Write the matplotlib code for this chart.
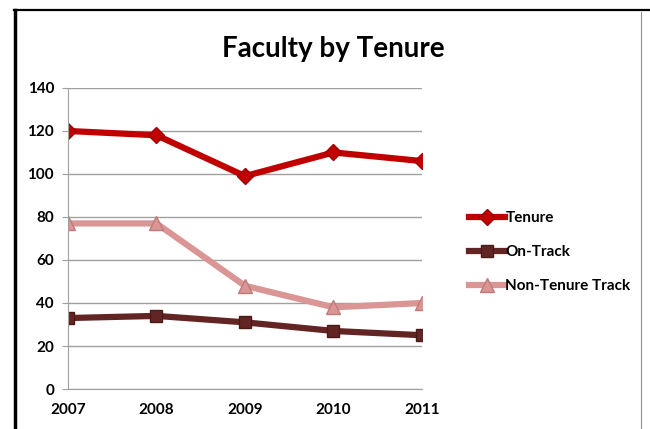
from matplotlib import pyplot as plt
from matplotlib.lines import Line2D

years = ["2007", "2008", "2009", "2010", "2011"]
tenure = [120, 118, 99, 110, 106]
on_track = [33, 34, 31, 27, 25]
non_tenure = [77, 77, 48, 38, 40]

plt.rcParams['font.family'] = ['Lato', 'DejaVu Sans']
plt.rcParams['font.weight'] = 'bold'

fig = plt.figure(figsize=(6.5, 4.29), dpi=100)
ax = fig.add_axes([0.1046, 0.0932, 0.5446, 0.7018])

x = range(len(years))
ax.plot(x, tenure, color="#C00000", lw=4.5, marker="D", ms=8,
        markeredgecolor="#A00000", label="Tenure")
ax.plot(x, on_track, color="#632523", lw=4.5, marker="s", ms=9,
        markeredgecolor="#4a1a18", label="On-Track")
ax.plot(x, non_tenure, color="#D99694", lw=4.5, marker="^", ms=10,
        markeredgecolor="#C07a78", label="Non-Tenure Track")

ax.set_xlim(0, 4)
ax.set_ylim(0, 140)
ax.set_yticks(range(0, 141, 20))
ax.set_xticks(list(x))
ax.set_xticklabels(years)
ax.grid(axis="y", color="#A0A0A0", lw=1)
ax.set_axisbelow(True)
for s in ["top", "right"]:
    ax.spines[s].set_visible(False)
ax.spines["left"].set_color("#A0A0A0")
ax.spines["bottom"].set_color("#A0A0A0")
ax.tick_params(axis="y", length=4, color="#A0A0A0", labelsize=11, pad=6)
ax.tick_params(axis="x", length=0, labelsize=11, pad=10)
for lab in ax.get_xticklabels() + ax.get_yticklabels():
    lab.set_fontweight("bold")
for sp in ax.spines.values():
    sp.set_clip_on(False)

fig.text(0.513, 0.885, "Faculty by Tenure", ha="center", va="center",
         fontsize=20, fontweight="bold")

fig.legend(loc="center left", bbox_to_anchor=(0.70, 0.412), frameon=False,
           fontsize=11, handlelength=2.4, handletextpad=0.0, labelspacing=1.3)

# outer frame of the chart box
fig.add_artist(Line2D([0.023, 0.023], [0.0, 0.977], color="black", lw=2.5,
                      transform=fig.transFigure))
fig.add_artist(Line2D([0.022, 1.0], [0.977, 0.977], color="black", lw=1.6,
                      transform=fig.transFigure))
fig.add_artist(Line2D([0.986, 0.986], [0.0, 0.972], color="#909090", lw=0.8,
                      transform=fig.transFigure))

fig.savefig("out.png", dpi=100)
